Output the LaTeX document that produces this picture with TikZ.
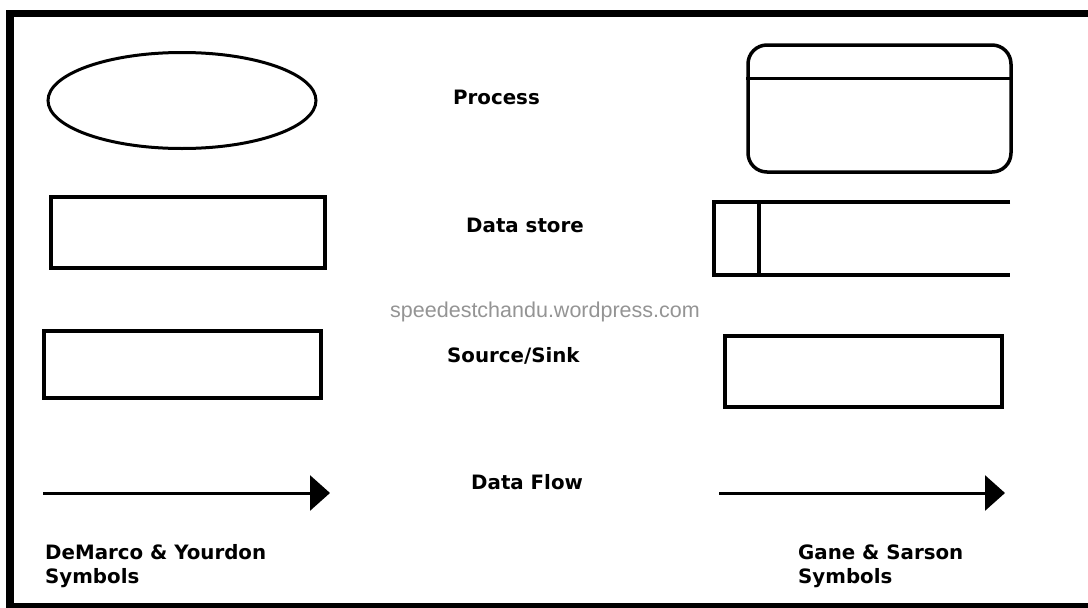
\documentclass[tikz,border=0pt]{standalone}
\usepackage{fontspec}
\usetikzlibrary{arrows.meta,shapes.geometric}
\newfontfamily\labelfont{DejaVu Sans}
\newfontfamily\markfont{Liberation Sans}
\begin{document}
\begin{tikzpicture}[x=1pt,y=-1pt,
  shape line/.style={draw=black,line width=3.5pt},
  symlabel/.style={font=\labelfont\bfseries\fontsize{19.8}{24.5}\selectfont,inner sep=0pt,anchor=base west},
  caption/.style={symlabel,align=left},
  flow/.style={line width=3pt,-{Triangle[length=20pt,width=35pt]}},
  framebar/.style={fill=black}]
\useasboundingbox (0,0) rectangle (1088,608);
\fill[white] (0,0) rectangle (1088,608);

% outer frame (top, left and bottom bars)
\fill[framebar] (6,10) rectangle (1088,17);
\fill[framebar] (6,10) rectangle (14,608);
\fill[framebar] (6,603) rectangle (1088,608);

% DeMarco & Yourdon column
\node[shape line,line width=3pt,ellipse,minimum width=268pt,minimum height=96pt,inner sep=0pt] (dyproc) at (182,100.5) {};
\node[shape line,line width=4pt,rectangle,minimum width=274pt,minimum height=71pt,inner sep=0pt] (dystore) at (188,232.5) {};
\node[shape line,line width=4pt,rectangle,minimum width=277pt,minimum height=67pt,inner sep=0pt] (dysource) at (182.5,364.5) {};
\coordinate (dyflowA) at (43,493);
\coordinate (dyflowB) at (330,493);
\draw[flow] (dyflowA) -- (dyflowB);

% Gane & Sarson column
\node[shape line,rectangle,rounded corners=19pt,minimum width=263pt,minimum height=127pt,inner sep=0pt] (gsproc) at (879.5,108.5) {};
\draw[shape line,line width=3pt] (gsproc.west |- 0,78) -- (gsproc.east |- 0,78);

\coordinate (gsstoreTR) at (1010,202);
\coordinate (gsstoreTL) at (714,202);
\coordinate (gsstoreBL) at (714,275);
\coordinate (gsstoreBR) at (1010,275);
\draw[shape line] (gsstoreTR) -- (gsstoreTL) -- (gsstoreBL) -- (gsstoreBR);
\draw[shape line] (759,202) -- (759,275);

\node[shape line,line width=4pt,rectangle,minimum width=277pt,minimum height=71pt,inner sep=0pt] (gssource) at (863.5,371.5) {};
\coordinate (gsflowA) at (719,493);
\coordinate (gsflowB) at (1005,493);
\draw[flow] (gsflowA) -- (gsflowB);

% row labels
\node[symlabel] (lproc) at (453,104) {Process};
\node[symlabel] (lstore) at (466,232) {Data store};
\node[symlabel] (lsource) at (447,362) {Source/Sink};
\node[symlabel] (lflow) at (471,489) {Data Flow};

% web address
\node[font=\markfont\fontsize{21.5}{24}\selectfont,text=black!42,inner sep=0pt] (web) at (545,312) {speedestchandu.wordpress.com};

% column captions (base anchor sits on the last line)
\node[caption] (capdy) at (45,583.5) {DeMarco \& Yourdon\\Symbols};
\node[caption] (capgs) at (798,583.5) {Gane \& Sarson\\Symbols};
\end{tikzpicture}
\end{document}
